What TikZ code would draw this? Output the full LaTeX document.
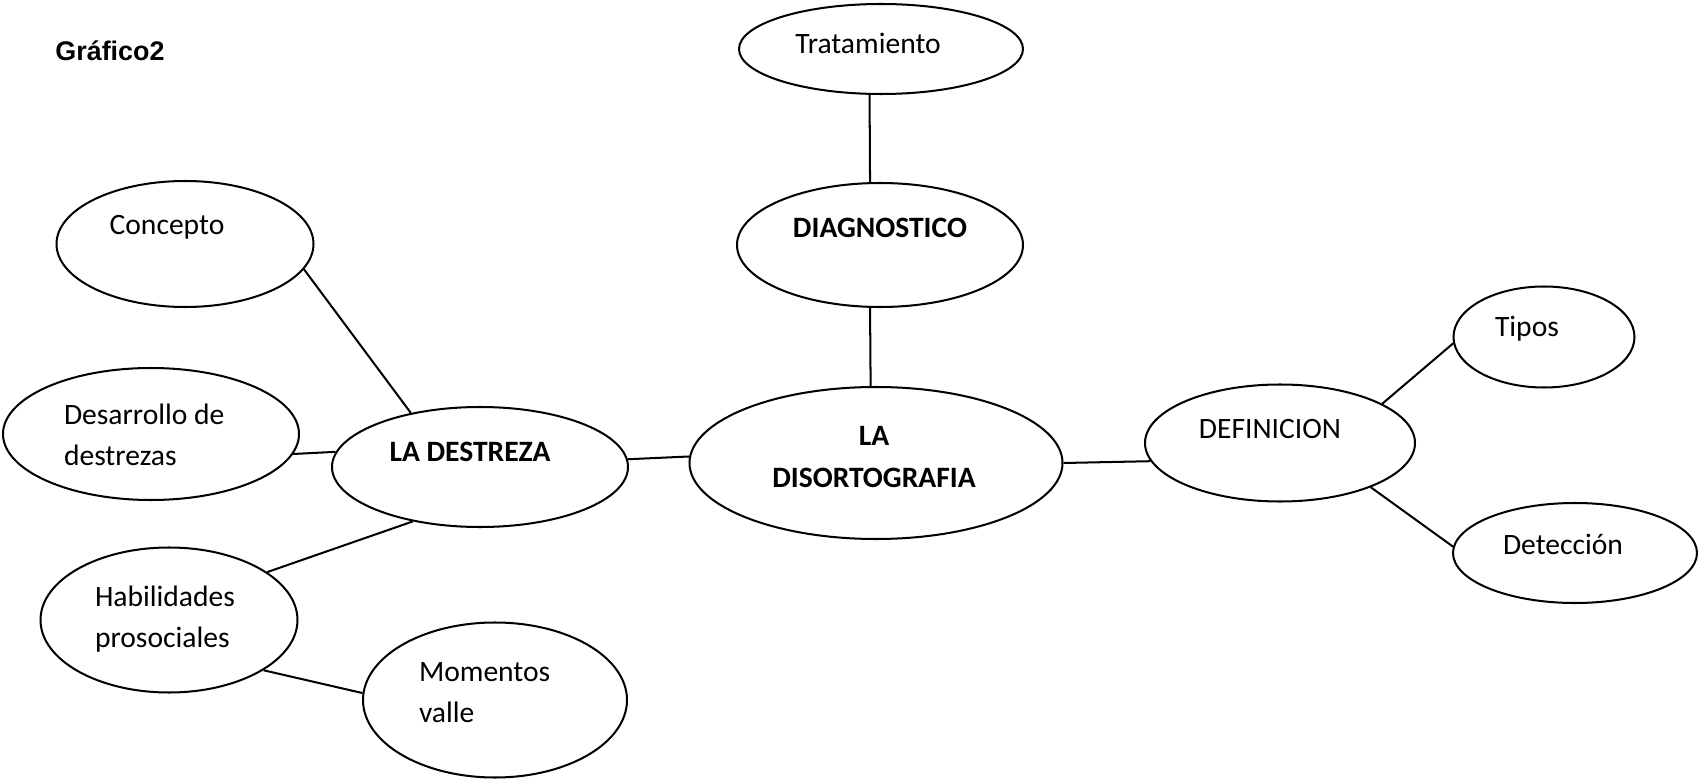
\documentclass[tikz,border=0pt]{standalone}
\usepackage{fontspec}
\setmainfont{Carlito}
\newfontfamily\arialfont{Liberation Sans}
\usetikzlibrary{shapes.geometric}

\begin{document}
\begin{tikzpicture}[x=0.372pt, y=-0.372pt, line width=0.75pt,
		bub/.style 2 args={draw, ellipse, minimum width=#1*0.372pt, minimum height=#2*0.372pt, inner sep=0pt},
		txt/.style={inner sep=0pt, font=\fontsize{11}{15.3}\selectfont},
		lft/.style={txt, anchor=west, align=left}]
		\useasboundingbox (0,0) rectangle (1699,779);
		
		\node[inner sep=0pt, font=\arialfont\bfseries\fontsize{10}{12}\selectfont] (title) at (110,51) {Gráfico2};
		
		\node[bub={284}{90}] (trat) at (881,49) {};
		\node[bub={286}{124}] (diag) at (880,245) {};
		\node[bub={373}{152}] (diso) at (876,463) {};
		
		\node[bub={296}{120}] (dest) at (480,467) {};
		\node[bub={257}{126}] (conc) at (185,244) {};
		\node[bub={296}{132}] (desa) at (151,434) {};
		\node[bub={257}{145}] (habi) at (169,620) {};
		\node[bub={264}{155}] (mome) at (495,700) {};
		
		\node[bub={270}{117}] (defi) at (1280,443) {};
		\node[bub={181}{101}] (tipo) at (1544,337) {};
		\node[bub={244}{100}] (dete) at (1575,553) {};
		
		\node[txt] (trat-t) at (868,43) {Tratamiento};
		\node[txt, font=\fontsize{11}{15.3}\selectfont\bfseries] (diag-t) at (880,228) {DIAGNOSTICO};
		\node[txt, align=center, font=\fontsize{11}{15.3}\selectfont\bfseries] (diso-t) at (874,457) {LA\\DISORTOGRAFIA};
		\node[txt, font=\fontsize{11}{15.3}\selectfont\bfseries] (dest-t) at (470,452) {LA DESTREZA};
		\node[txt] (conc-t) at (167,227) {Concepto};
		\node[lft] (desa-t) at (63,435) {Desarrollo de\\destrezas};
		\node[lft] (habi-t) at (94,619) {Habilidades\\prosociales};
		\node[lft] (mome-t) at (418,693) {Momentos\\valle};
		\node[txt] (defi-t) at (1270,429) {DEFINICION};
		\node[txt] (tipo-t) at (1527,329) {Tipos};
		\node[txt] (dete-t) at (1563,544) {Detección};
		
		\draw (trat.-104) -- (diag.99);
		\draw (diag.-99) -- (diso.94);
		\draw (diso.178) -- (dest.3);
		\draw (dest.142) -- (conc.-12);
		\draw (dest.174) -- (desa.-8);
		\draw (dest.-141) -- (habi.26);
		\draw (habi.-28) -- (mome.177);
		\draw (diso.0) -- (defi.188);
		\draw (defi.21) -- (tipo.184);
		\draw (defi.-26) -- (dete.177);
	\end{tikzpicture}
\end{document}
